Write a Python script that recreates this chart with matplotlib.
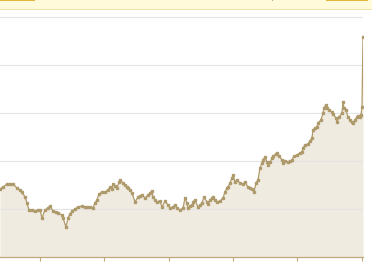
import matplotlib
matplotlib.use("Agg")
import matplotlib.pyplot as plt
from matplotlib.patches import Rectangle

# trading-day index and price
days = [0, 3, 7, 10, 13, 17, 20, 22, 25, 27, 29, 32, 35, 38, 40, 42, 45, 48, 50,
        53, 56, 58, 62, 63, 66, 68, 70, 72, 75, 78, 82, 85, 87, 90, 93, 95, 97,
        99, 102, 105, 108, 110, 112, 113, 115, 117, 119, 120, 123, 125, 127, 128,
        130, 132, 135, 138, 140, 142, 145, 148, 150, 152, 153, 155, 157, 160, 162,
        165, 168, 170, 173, 175, 177, 180, 183, 185, 187, 188, 190, 192, 193, 195,
        198, 200, 202, 204, 207, 208, 210, 212, 213, 215, 217, 220, 223, 225, 227,
        228, 230, 232, 233, 235, 237, 240, 243, 245, 248, 250, 252, 254, 256, 258,
        260, 262, 263, 265, 267, 268, 270, 272, 273, 276, 277, 279, 282, 283, 285,
        288, 290, 292, 294, 297, 300, 302, 303, 305, 308, 310, 312, 313, 315, 317,
        318, 321, 323, 324, 326, 327, 329, 332, 333, 336, 337, 339, 342, 343, 344,
        346, 348, 350, 352, 353, 355, 357, 358, 360, 361, 362, 363]
price = [34, 35, 36.5, 36.5, 36.5, 34.5, 33.5, 32.5, 30, 27, 23.5, 23.5, 23, 23.5,
         23.5, 19.5, 23.5, 24.5, 25.5, 23, 22.5, 22, 21, 19.5, 15, 19.5, 21.5, 23,
         24, 25, 25.5, 25, 25, 25, 24.5, 27, 28.5, 31.5, 32.5, 32.5, 33.5, 35, 34,
         36.5, 35.5, 34.5, 37.5, 38.5, 37, 36, 35, 34.5, 33.5, 32, 27.5, 30, 30.5,
         31, 29.5, 31, 32, 33, 30, 28.5, 27.5, 28, 25, 28, 26, 24.5, 25, 26, 24.5,
         23.5, 24.5, 29.5, 27, 24.5, 25.5, 26, 27.5, 28.5, 25, 26, 27, 30, 27.5,
         26.5, 28.5, 29.5, 30, 28.5, 27.5, 28, 29.5, 32.5, 34.5, 35, 37, 39.5, 41,
         37.5, 38.5, 37, 36.5, 37.5, 35, 34.5, 34, 32.5, 37, 38.5, 44.5, 47, 48.5,
         50, 47.5, 46, 47.5, 49.5, 50.5, 51.5, 52, 50.5, 48.5, 47, 48, 47.5, 48,
         48.5, 50.5, 51, 52, 52.5, 54.5, 56, 56.5, 58, 59.5, 63.5, 64.5, 65, 67,
         68.5, 72, 74.5, 76, 74.5, 73.5, 72.5, 71.5, 69.5, 67.5, 70, 72, 77.5, 74.5,
         73.5, 70, 68.5, 67.5, 67, 68.5, 70, 70.5, 70, 71, 75, 110]

tick_days = [40, 104, 169, 233, 297, 362]
grid_levels = [24, 48, 72, 96, 120]

line_color = "#AF9A6B"
fill_color = "#F0EBE1"

fig = plt.figure(figsize=(3.72, 2.66), dpi=100)
W, H = 372, 266

# axes placed in pixel terms (left edge runs just past the crop)
ax = fig.add_axes([-1 / W, 9 / H, 364 / W, 247 / H])
ax.set_xlim(-1, 363)
ax.set_ylim(0, 123.5)

ax.fill_between(days, price, 0, color=fill_color, lw=0, zorder=1)
ax.plot(days, price, color=line_color, lw=0.9, marker="s", ms=1.6,
        mec=line_color, mfc=line_color, zorder=3)

for g in grid_levels:
    ax.axhline(g, color="#E4E4E4", lw=0.8, zorder=2)

ax.set_yticks([])
ax.set_xticks(tick_days)
ax.set_xticklabels([])
ax.tick_params(axis="x", length=3, width=0.8, color="#BFA978")
for s in ["top", "right", "left"]:
    ax.spines[s].set_visible(False)
ax.spines["bottom"].set_color("#BFA978")
ax.spines["bottom"].set_linewidth(0.9)

# banner strip along the top edge
fig.patches.append(Rectangle((0, (H - 9) / H), 1, 9 / H, transform=fig.transFigure,
                             facecolor="#FFFAD9", edgecolor="none", zorder=5))
fig.patches.append(Rectangle((0, (H - 10) / H), 1, 1 / H, transform=fig.transFigure,
                             facecolor="#F1E4A6", edgecolor="none", zorder=5))
fig.patches.append(Rectangle((0, (H - 1.2) / H), 35 / W, 1.2 / H, transform=fig.transFigure,
                             facecolor="#E5B43C", edgecolor="none", zorder=6))
fig.patches.append(Rectangle((326 / W, (H - 1.2) / H), 42 / W, 1.2 / H, transform=fig.transFigure,
                             facecolor="#E5B43C", edgecolor="none", zorder=6))
fig.patches.append(Rectangle((272 / W, (H - 1.2) / H), 1 / W, 1.2 / H, transform=fig.transFigure,
                             facecolor="#B8A888", edgecolor="none", zorder=6))

fig.savefig("out.png", dpi=100)
